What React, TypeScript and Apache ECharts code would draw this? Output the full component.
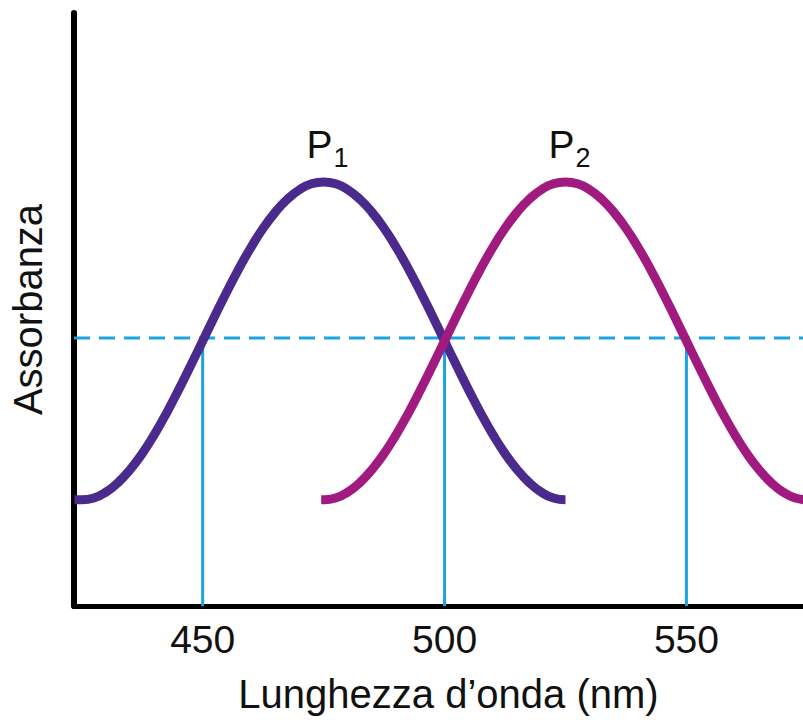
import React, { useEffect, useRef } from "react";
import * as echarts from "echarts";

// Wavelength (nm) and absorbance (arbitrary units, 0-100)
const wavelengthsP1 = [
  423.5, 425, 427.5, 430, 432.5, 435, 437.5, 440, 442.5, 445, 447.5, 450, 452.5, 455, 457.5, 460, 462.5, 465, 467.5, 470, 472.5,
  475, 477.5, 480, 482.5, 485, 487.5, 490, 492.5, 495, 497.5, 500, 502.5, 505, 507.5, 510, 512.5, 515, 517.5, 520, 522.5, 525,
];
const absorbanceP1 = [
  17.9, 17.9, 18.2, 19.2, 20.8, 23.0, 25.7, 28.9, 32.5, 36.4, 40.5, 44.7, 48.9, 53.0, 56.9, 60.5, 63.7, 66.4, 68.6, 70.2, 71.2,
  71.5, 71.2, 70.2, 68.6, 66.4, 63.7, 60.5, 56.9, 53.0, 48.9, 44.7, 40.5, 36.4, 32.5, 28.9, 25.7, 23.0, 20.8, 19.2, 18.2, 17.9,
];
const wavelengthsP2 = [
  474.5, 475, 477.5, 480, 482.5, 485, 487.5, 490, 492.5, 495, 497.5, 500, 502.5, 505, 507.5, 510, 512.5, 515, 517.5, 520, 522.5,
  525, 527.5, 530, 532.5, 535, 537.5, 540, 542.5, 545, 547.5, 550, 552.5, 555, 557.5, 560, 562.5, 565, 567.5, 570, 572.5, 575,
];
const absorbanceP2 = [
  17.9, 17.9, 18.2, 19.2, 20.8, 23.0, 25.7, 28.9, 32.5, 36.4, 40.5, 44.7, 48.9, 53.0, 56.9, 60.5, 63.7, 66.4, 68.6, 70.2, 71.2,
  71.5, 71.2, 70.2, 68.6, 66.4, 63.7, 60.5, 56.9, 53.0, 48.9, 44.7, 40.5, 36.4, 32.5, 28.9, 25.7, 23.0, 20.8, 19.2, 18.2, 17.9,
];
const peakLabels = ["1", "2"];
const peakWavelengths = [475, 525];
const peakAbsorbance = [71.5, 71.5];
const crossingWavelengths = [450, 500, 550];
const crossingLevel = 45.2;
const xTicks = [450, 500, 550];
const xMin = 423.4;
const xMax = 574.1;

const FONT = "'Liberation Sans', Arial, Helvetica, sans-serif";
const BLUE = "#1CA3E2";
const PURPLE = "#4A2A8C";
const MAGENTA = "#A01A80";
const TEXT = "#111111";

export default function App() {
  const ref = useRef<HTMLDivElement>(null);
  useEffect(() => {
    if (!ref.current) return;
    const chart = echarts.init(ref.current, null, { renderer: "svg" });

    const verticalSeries = crossingWavelengths.map((w) => ({
      type: "line",
      data: [
        [w, 0],
        [w, crossingLevel],
      ],
      symbol: "none",
      lineStyle: { color: BLUE, width: 3 },
      silent: true,
      z: 1,
    }));

    const option: any = {
      animation: false,
      backgroundColor: "#ffffff",
      grid: { left: 72, right: 0, top: 13, bottom: 114, containLabel: false },
      xAxis: {
        type: "value",
        min: xMin,
        max: xMax,
        name: "Lunghezza d\u2019onda (nm)",
        nameLocation: "middle",
        nameGap: 68,
        nameTextStyle: { fontFamily: FONT, fontSize: 40, color: TEXT, padding: [0, 0, 0, 20] },
        axisLine: { show: true, lineStyle: { color: "#000", width: 5 } },
        axisTick: { show: false },
        splitLine: { show: false },
        axisLabel: {
          customValues: xTicks,
          fontFamily: FONT,
          fontSize: 39,
          color: TEXT,
          margin: 14,
        },
      },
      yAxis: {
        type: "value",
        min: 0,
        max: 100,
        name: "Assorbanza",
        nameLocation: "middle",
        nameGap: 26,
        nameRotate: 90,
        nameTextStyle: { fontFamily: FONT, fontSize: 40, color: TEXT },
        axisLine: { show: true, lineStyle: { color: "#000", width: 6 } },
        axisTick: { show: false },
        axisLabel: { show: false },
        splitLine: { show: false },
      },
      series: [
        {
          type: "line",
          data: [
            [xMin, crossingLevel],
            [xMax, crossingLevel],
          ],
          symbol: "none",
          lineStyle: { color: BLUE, width: 3, type: [16, 9] },
          silent: true,
          z: 1,
        },
        ...verticalSeries,
        {
          type: "line",
          name: "P1",
          data: wavelengthsP1.map((w, i) => [w, absorbanceP1[i]]),
          smooth: true,
          symbol: "none",
          lineStyle: { color: PURPLE, width: 9, cap: "butt" },
          z: 2,
        },
        {
          type: "line",
          name: "P2",
          data: wavelengthsP2.map((w, i) => [w, absorbanceP2[i]]),
          smooth: true,
          symbol: "none",
          lineStyle: { color: MAGENTA, width: 9, cap: "butt" },
          z: 3,
        },
        {
          type: "scatter",
          data: peakWavelengths.map((w, i) => ({ value: [w, peakAbsorbance[i]], name: peakLabels[i] })),
          symbolSize: 0,
          silent: true,
          z: 4,
          itemStyle: { opacity: 1 },
          label: {
            show: true,
            opacity: 1,
            position: "top",
            distance: 11,
            offset: [4, 0],
            formatter: (p: any) => `{a|P}{b|${p.name}}`,
            rich: {
              a: { fontFamily: FONT, fontSize: 39, color: TEXT, lineHeight: 54 },
              b: { fontFamily: FONT, fontSize: 27, color: TEXT, lineHeight: 27, verticalAlign: "bottom", padding: [0, 0, 0, 1] },
            },
          },
        },
      ],
    };
    chart.setOption(option);
    return () => chart.dispose();
  }, []);

  return (
    <div
      ref={ref}
      style={{ position: "fixed", left: 0, top: 0, width: 803, height: 720, background: "#fff" }}
    />
  );
}
